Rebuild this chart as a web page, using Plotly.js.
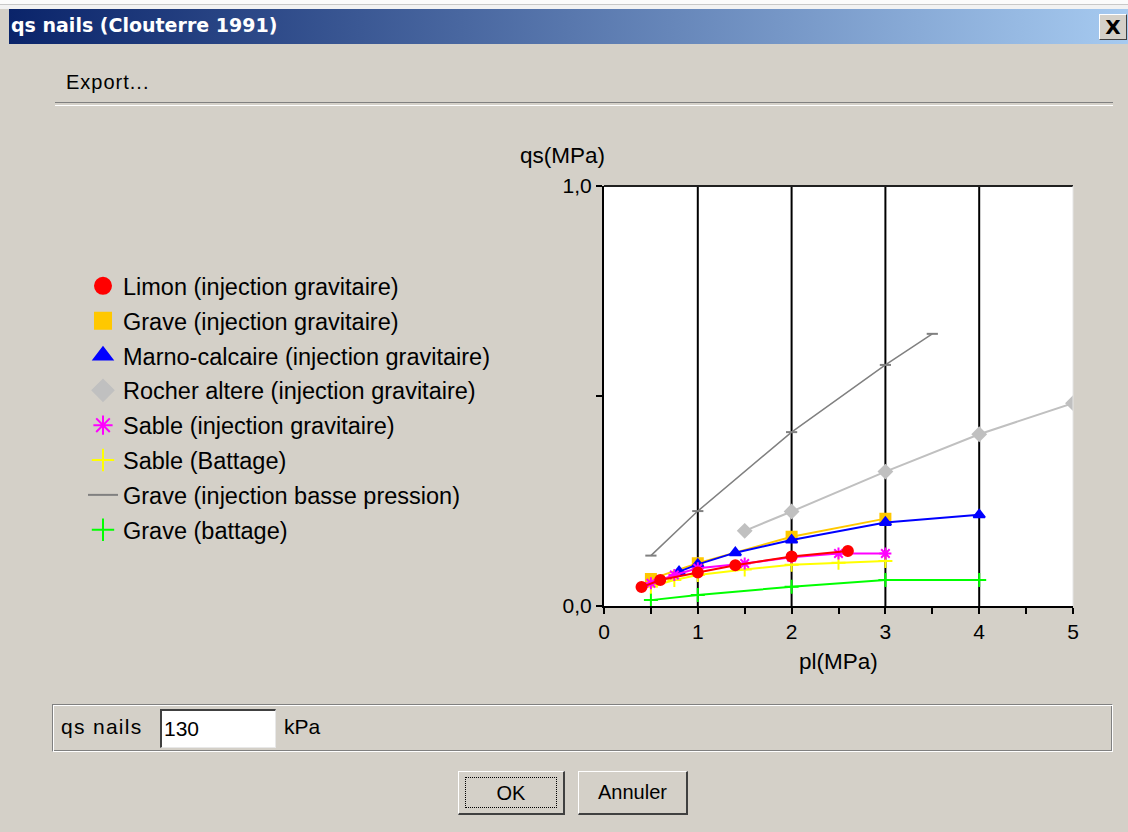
<!DOCTYPE html>
<html><head><meta charset="utf-8">
<script src="https://cdn.plot.ly/plotly-3.0.1.min.js"></script>
<style>
body{margin:0;width:1128px;height:832px;overflow:hidden;background:#d4d0c8;font-family:"Liberation Sans",Arial,sans-serif;position:relative}
#topstrip{position:absolute;left:0;top:0;width:1128px;height:9px;background:#f2f2f2;border-top:4px solid #fbfbfb;box-sizing:border-box}
#topstrip:after{content:"";position:absolute;left:0;top:0;width:100%;height:1px;background:#c8c8c8}
#titlebar{position:absolute;left:9px;top:9px;width:1119px;height:35px;background:linear-gradient(to right,#0a246a,#a6caf0)}
#titlebar span{position:absolute;left:2px;top:5px;color:#fff;font-family:"DejaVu Sans",Verdana,sans-serif;font-weight:bold;font-size:19px;white-space:nowrap}
#close{position:absolute;left:1090px;top:5px;width:28px;height:26px;background:#d4d0c8;border-top:1px solid #fff;border-left:1px solid #fff;border-right:1px solid #404040;border-bottom:1px solid #404040;box-sizing:border-box;font-family:"DejaVu Sans",sans-serif;font-weight:bold;font-size:20px;text-align:center;line-height:24px;color:#000}
#menu{position:absolute;left:66px;top:71px;font-size:20px;letter-spacing:1px;color:#000}
#sep{position:absolute;left:55px;top:102px;width:1058px;height:2px;border-top:1px solid #808080;border-bottom:1px solid #fff}
#chart{position:absolute;left:0;top:0;width:1128px;height:832px;z-index:2}
#panel{position:absolute;left:52px;top:704px;width:1061px;height:48px;box-sizing:border-box;border-top:1px solid #808080;border-left:1px solid #808080;border-right:1px solid #fff;border-bottom:1px solid #fff;box-shadow:inset 1px 1px 0 #fff, inset -1px -1px 0 #808080}
#lbl{position:absolute;left:8px;top:10px;font-size:21px;letter-spacing:1.3px;color:#000}
#field{position:absolute;left:107px;top:4px;width:116px;height:39px;box-sizing:border-box;background:#fff;border-top:2px solid #404040;border-left:2px solid #404040;border-right:1px solid #e8e8e8;border-bottom:1px solid #e8e8e8;font-size:21px;padding-left:2px;line-height:36px;color:#000}
#unit{position:absolute;left:231px;top:10px;font-size:21px;color:#000}
.btn{position:absolute;top:771px;height:44px;box-sizing:border-box;background:#d4d0c8;border-top:1px solid #fff;border-left:1px solid #fff;border-right:2px solid #404040;border-bottom:2px solid #404040;font-size:20px;text-align:center;line-height:40px;color:#000}
#ok{left:458px;width:107px}
#ok span{position:absolute;left:6px;top:5px;right:6px;bottom:5px;border:1px dotted #000;line-height:30px}
#cancel{left:578px;width:110px}
</style></head><body>
<div id="topstrip"></div>
<div id="titlebar"><span>qs nails (Clouterre 1991)</span><div id="close">X</div></div>
<div id="menu">Export...</div>
<div id="sep"></div>
<div id="panel"><span id="lbl">qs nails</span><div id="field">130</div><span id="unit">kPa</span></div>
<div class="btn" id="ok"><span>OK</span></div>
<div class="btn" id="cancel">Annuler</div>
<div id="chart"></div>
<script>
// ---- data (pl in MPa, qs in MPa) ----
const seriesNames = [
  "Limon (injection gravitaire)",
  "Grave (injection gravitaire)",
  "Marno-calcaire (injection gravitaire)",
  "Rocher altere (injection gravitaire)",
  "Sable (injection gravitaire)",
  "Sable (Battage)",
  "Grave (injection basse pression)",
  "Grave (battage)"
];
const plLimon = [0.4, 0.6, 1.0, 1.4, 2.0, 2.6];
const qsLimon = [0.045, 0.062, 0.080, 0.097, 0.118, 0.131];
const plGraveInj = [0.5, 1.0, 2.0, 3.0];
const qsGraveInj = [0.064, 0.102, 0.165, 0.208];
const plMarno = [0.8, 1.0, 1.4, 2.0, 3.0, 4.0];
const qsMarno = [0.082, 0.099, 0.127, 0.157, 0.199, 0.217];
const plRocher = [1.5, 2.0, 3.0, 4.0, 5.0];
const qsRocher = [0.179, 0.225, 0.320, 0.409, 0.483];
const plSableInj = [0.5, 0.75, 1.0, 1.5, 2.0, 2.5, 3.0];
const qsSableInj = [0.054, 0.074, 0.090, 0.101, 0.116, 0.125, 0.125];
const plSableBat = [0.5, 0.75, 1.0, 1.5, 2.0, 2.5, 3.0];
const qsSableBat = [0.046, 0.062, 0.074, 0.087, 0.098, 0.103, 0.107];
const plGraveBP = [0.5, 1.0, 2.0, 3.0, 3.5];
const qsGraveBP = [0.120, 0.226, 0.414, 0.574, 0.648];
const plGraveBat = [0.5, 1.0, 2.0, 3.0, 4.0];
const qsGraveBat = [0.014, 0.026, 0.046, 0.062, 0.062];

const xTickVals = [0, 1, 2, 3, 4, 5];
const xTickText = ["0", "1", "2", "3", "4", "5"];
const yTickVals = [0, 0.5, 1.0];
const yTickText = ["0,0", "", "1,0"];
const gridX = [1, 2, 3, 4];
const xTitle = "pl(MPa)";
const yTitle = "qs(MPa)";

// ---- styles ----
const styles = [
  {color:"#ff0000", symbol:"circle", size:10, mode:"lines+markers", lw:2},
  {color:"#ffc800", symbol:"square", size:10, mode:"lines+markers", lw:2},
  {color:"#0000ff", symbol:"triangle-up", size:10, mode:"lines+markers", lw:2},
  {color:"#c0c0c0", symbol:"diamond", size:10, mode:"lines+markers", lw:2},
  {color:"#ff00ff", symbol:"asterisk-open", size:10, mode:"lines+markers", lw:2},
  {color:"#ffff00", symbol:"cross-thin-open", size:10, mode:"lines+markers", lw:2},
  {color:"#808080", symbol:"line-ew-open", size:8, mode:"lines+markers", lw:1.5},
  {color:"#00ff00", symbol:"cross-thin-open", size:10, mode:"lines+markers", lw:2}
];
const xs = [plLimon, plGraveInj, plMarno, plRocher, plSableInj, plSableBat, plGraveBP, plGraveBat];
const ys = [qsLimon, qsGraveInj, qsMarno, qsRocher, qsSableInj, qsSableBat, qsGraveBP, qsGraveBat];

const drawOrder = [7, 5, 6, 3, 1, 2, 4, 0];
const traces = [];
drawOrder.forEach(i => {
  const s = styles[i];
  traces.push({
    type:"scatter", mode:s.mode, x:xs[i], y:ys[i], name:seriesNames[i], showlegend:false,
    legendgroup:"g"+i,
    line:{color:s.color, width:s.lw},
    marker:{color:s.color, symbol:s.symbol, size:s.size, line:{color:s.color, width:2}},
    hoverinfo:"skip"
  });
});
// legend entries (symbol only, as in the original dialog)
seriesNames.forEach((n, i) => {
  const s = styles[i];
  const isLine = i === 6;
  traces.push({
    type:"scatter", mode: isLine ? "lines" : "markers", x:[null], y:[null], name:n,
    legendgroup:"g"+i, legendrank:i+1, showlegend:true,
    line:{color:s.color, width:2},
    marker:{color:s.color, symbol:s.symbol, size:16, line:{color:s.color, width:2}}
  });
});

const shapes = gridX.map(v => ({type:"line", xref:"x", yref:"paper", x0:v, x1:v, y0:0, y1:1, line:{color:"#000", width:2}, layer:"below"}));
shapes.push({type:"line", xref:"paper", yref:"paper", x0:0, x1:1, y0:1, y1:1, line:{color:"#202020", width:2}});
shapes.push({type:"line", xref:"paper", yref:"paper", x0:1, x1:1, y0:0, y1:1, line:{color:"#e4e4e4", width:1}});

const layout = {
  width:1128, height:832,
  margin:{l:604, r:55, t:186, b:226, pad:0},
  paper_bgcolor:"rgba(0,0,0,0)", plot_bgcolor:"#ffffff",
  font:{family:"Liberation Sans, Arial, sans-serif", size:21, color:"#000"},
  showlegend:true,
  legend:{xref:"container", yref:"container", x:83/1128, y:1-264/832, xanchor:"left", yanchor:"top",
    bgcolor:"rgba(0,0,0,0)", font:{size:23.5, color:"#000"}, tracegroupgap:1.3, itemwidth:30, traceorder:"grouped"},
  xaxis:{range:[0,5], tickvals:xTickVals, ticktext:xTickText, ticks:"outside", ticklen:6, tickwidth:2, tickcolor:"#000",
    showline:true, linecolor:"#000", linewidth:2, showgrid:false, zeroline:false, fixedrange:true,
    minor:{dtick:0.5, tick0:0, ticks:"outside", ticklen:6, tickwidth:2, tickcolor:"#000", showgrid:false},
    tickfont:{size:21}},
  yaxis:{range:[0,1], tickvals:yTickVals, ticktext:yTickText, ticks:"outside", ticklen:6, tickwidth:2, tickcolor:"#000",
    showline:true, linecolor:"#000", linewidth:2, showgrid:false, zeroline:false, fixedrange:true, tickfont:{size:21}},
  shapes:shapes,
  annotations:[
    {text:yTitle, xref:"paper", yref:"paper", x:(562-604)/469, y:(606-155)/420, showarrow:false, xanchor:"center", yanchor:"middle", font:{size:22.5}},
    {text:xTitle, xref:"paper", yref:"paper", x:0.5, y:(606-661)/420, showarrow:false, xanchor:"center", yanchor:"middle", font:{size:22.5}}
  ]
};
Plotly.newPlot("chart", traces, layout, {displayModeBar:false, staticPlot:true});
</script>
</body></html>
